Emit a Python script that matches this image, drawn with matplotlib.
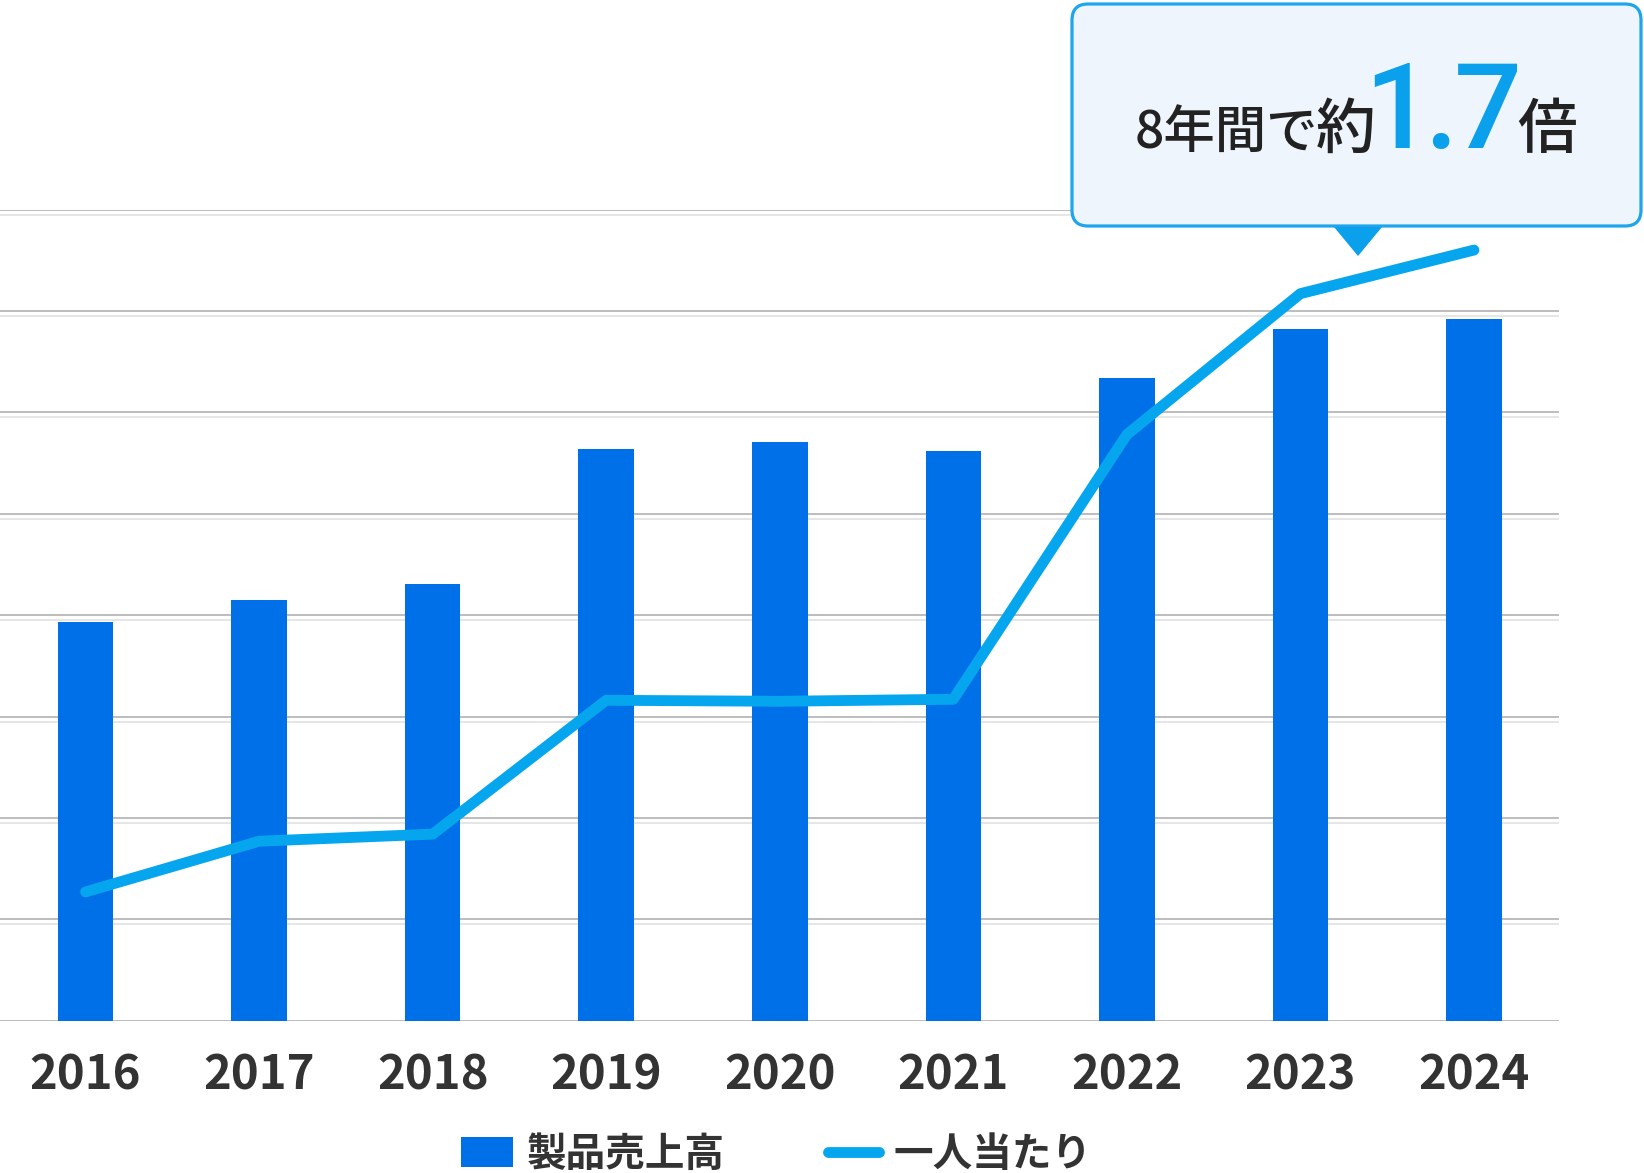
import matplotlib.pyplot as plt
from matplotlib.patches import FancyBboxPatch, Polygon
from matplotlib.lines import Line2D
from matplotlib.patches import Patch

plt.rcParams['font.family'] = ['Noto Sans CJK JP', 'DejaVu Sans']

years = ['2016', '2017', '2018', '2019', '2020', '2021', '2022', '2023', '2024']
sales = [3.93, 4.15, 4.31, 5.64, 5.71, 5.62, 6.34, 6.82, 6.92]
per_person = [1.27, 1.77, 1.84, 3.16, 3.15, 3.17, 5.78, 7.17, 7.60]
legend_labels = ['製品売上高', '一人当たり']

bar_color = '#0070E8'
line_color = '#06A6EE'
text_color = '#333333'

W, H = 1644, 1173
fig = plt.figure(figsize=(W / 100, H / 100), dpi=100)
ax = fig.add_axes([0, 1 - 1020.7 / H, 1559 / W, 8 * 101.4 / H])

x = list(range(len(years)))
# gridlines (double grey line look)
for g in range(0, 9):
    ax.axhline(g, color='#bdbdbd', lw=1.4, zorder=0)
    ax.axhline(g - 0.05, color='#e6e6e6', lw=1.4, zorder=0)

ax.bar(x, sales, width=0.32, color=bar_color, zorder=2)
ax.plot(x, per_person, color=line_color, lw=7.8, solid_capstyle='round',
        solid_joinstyle='round', zorder=3)

ax.set_xlim(-0.493, 8.49)
ax.set_ylim(0, 8)
for s in ax.spines.values():
    s.set_visible(False)
ax.set_yticks([])
ax.set_xticks(x)
ax.set_xticklabels(years, fontsize=34, fontweight='bold', color=text_color)
ax.tick_params(axis='x', length=0, pad=22)

handles = [Patch(facecolor=bar_color, edgecolor='none'),
           Line2D([0], [0], color=line_color, lw=7.8, solid_capstyle='round')]
leg = ax.legend(handles, legend_labels, loc='center', bbox_to_anchor=(0.498, -0.165),
                ncol=2, frameon=False, handlelength=1.3, handleheight=0.8,
                handletextpad=0.35, columnspacing=2.6,
                prop={'size': 28.5, 'weight': 'bold'})
for t in leg.get_texts():
    t.set_color(text_color)

# callout box
tr = fig.dpi_scale_trans
box = FancyBboxPatch((10.72, (H - 226) / 100), 5.69, 2.22,
                     boxstyle='round,pad=0,rounding_size=0.16',
                     facecolor='#EEF5FC', edgecolor='#1EA5EC', lw=2.3,
                     transform=tr, zorder=5)
fig.patches.append(box)
tri = Polygon([(13.34, (H - 227) / 100), (13.82, (H - 227) / 100),
               (13.58, (H - 256) / 100)], closed=True,
              facecolor='#0AA0EC', edgecolor='none', transform=tr, zorder=6)
fig.patches.append(tri)

base = (H - 148) / 100
fig.text(11.35, base, '8年間で', fontsize=37, fontweight='medium', color='#222222',
         va='baseline', ha='left', transform=tr, zorder=8)
fig.text(13.46, base, '約', fontsize=43, fontweight='medium', color='#222222',
         va='baseline', ha='center', transform=tr, zorder=8)
for ch, cx in [('1', 13.98), ('.', 14.41), ('7', 14.88)]:
    fig.text(cx, base, ch, fontsize=86, fontweight='medium', color='#0AA0EC',
             family='Roboto', va='baseline', ha='center', transform=tr, zorder=8)
fig.text(15.47, base, '倍', fontsize=43, fontweight='medium', color='#222222',
         va='baseline', ha='center', transform=tr, zorder=8)

fig.savefig('out.png', dpi=100)
